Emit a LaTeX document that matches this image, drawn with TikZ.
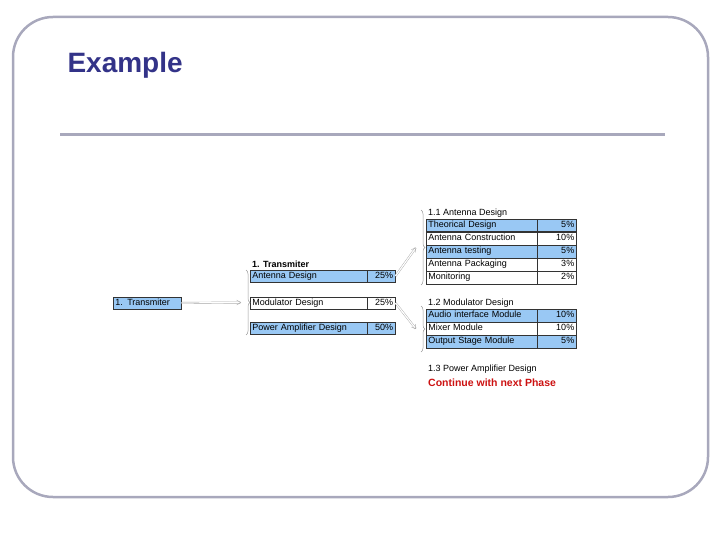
\documentclass[tikz,border=0pt]{standalone}
\usepackage{fontspec}
\setmainfont{Liberation Sans}
\usetikzlibrary{arrows.meta, decorations.pathreplacing, positioning}
\definecolor{cellblue}{HTML}{99C8F4}
\definecolor{framegray}{HTML}{A8A8BC}
\definecolor{titleblue}{HTML}{333388}
\definecolor{phasered}{HTML}{CC1111}
\begin{document}
\begin{tikzpicture}[x=1pt,y=-1pt,
  cell/.style={draw=black!80,line width=0.5pt,inner sep=2pt,font=\fontsize{9}{9}\selectfont,anchor=west,text height=6.5pt,text depth=2pt},
  linkline/.style={double=white,draw=gray!70,double distance=1.2pt,line width=0.4pt,-{Straight Barb[open,length=4pt,width=5pt]}},
  bracket/.style={decorate,decoration={brace,mirror,amplitude=4pt},draw=gray!80,line width=0.5pt}]
\useasboundingbox (0,0) rectangle (720,540);
\draw[framegray,line width=2.5pt,rounded corners=40pt] (13,17) rectangle (708,497);
\node[anchor=west,text=titleblue,font=\fontsize{28}{30}\selectfont\bfseries] (title) at (64,65) {Example};
\draw[framegray,line width=3pt] (60,135) -- (665,135);

% top level
\node[cell,fill=cellblue,text width=64pt] (top) at (113,303) {1. Transmiter};

% second level
\node[anchor=west,font=\fontsize{9}{9}\selectfont\bfseries,inner sep=0pt] (midtitle) at (252,264) {1. Transmiter};
\foreach \n/\txt/\pct/\y/\c in {a/Antenna Design/25\%/276/cellblue,b/Modulator Design/25\%/303/white,c/Power Amplifier Design/50\%/328/cellblue}{
  \node[cell,fill=\c,text width=113pt] (\n) at (250,\y) {\txt};
  \node[cell,fill=\c,text width=24pt,align=right] (\n p) at (367,\y) {\pct};
}
\draw[bracket] (246,335) -- (246,270) coordinate[midway] (midbrace);
\draw[linkline] (top.east) -- ([xshift=-5pt]midbrace);

% antenna table
\node[anchor=west,font=\fontsize{9}{9}\selectfont,inner sep=0pt] (anttitle) at (428,213) {1.1 Antenna Design};
\foreach \n/\txt/\pct/\y/\c in {1/Theorical Design/5\%/225.5/cellblue,2/Antenna Construction/10\%/238.5/white,3/Antenna testing/5\%/251.5/cellblue,4/Antenna Packaging/3\%/264.5/white,5/Monitoring/2\%/277.5/white}{
  \node[cell,fill=\c,text width=107pt] (ant\n) at (426,\y) {\txt};
  \node[cell,fill=\c,text width=35pt,align=right] (ant\n p) at (537,\y) {\pct};
}
\draw[bracket] (421,285) -- (421,210) coordinate[midway] (antbrace);
\draw[linkline] (ap.east) -- ([xshift=-5pt]antbrace);

% modulator table
\node[anchor=west,font=\fontsize{9}{9}\selectfont,inner sep=0pt] (modtitle) at (428,303) {1.2 Modulator Design};
\foreach \n/\txt/\pct/\y/\c in {1/Audio interface Module/10\%/315.5/cellblue,2/Mixer Module/10\%/328.5/white,3/Output Stage Module/5\%/341.5/cellblue}{
  \node[cell,fill=\c,text width=107pt] (mod\n) at (426,\y) {\txt};
  \node[cell,fill=\c,text width=35pt,align=right] (mod\n p) at (537,\y) {\pct};
}
\draw[bracket] (421,352) -- (421,306) coordinate[midway] (modbrace);
\draw[linkline] (bp.east) -- ([xshift=-5pt]modbrace);

% power amplifier
\node[anchor=west,font=\fontsize{9}{9}\selectfont,inner sep=0pt] (patitle) at (428,369) {1.3 Power Amplifier Design};
\node[anchor=west,font=\fontsize{10.5}{11}\selectfont\bfseries,text=phasered,inner sep=0pt] (phase) at (428,383) {Continue with next Phase};
\end{tikzpicture}
\end{document}
